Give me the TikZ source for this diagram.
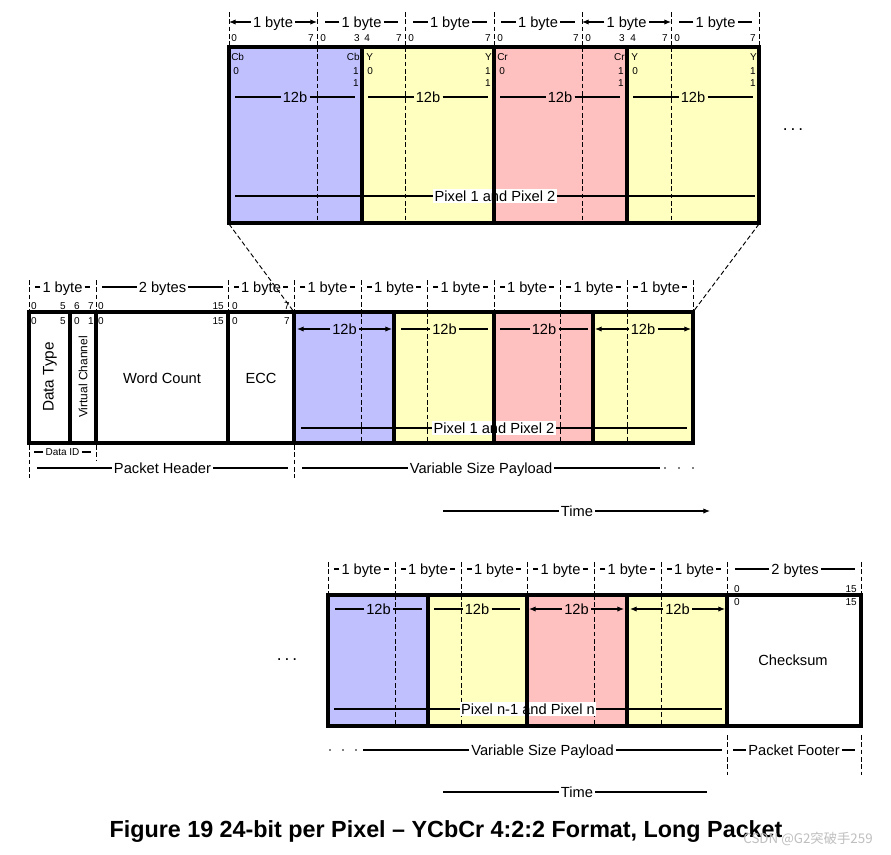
\documentclass[tikz,border=0pt]{standalone}
\usepackage{fontspec}
\setmainfont{Liberation Sans}
\newfontfamily\cjkfont{Noto Sans CJK SC}
\usetikzlibrary{arrows.meta}
\definecolor{cbblue}{RGB}{192,192,255}
\definecolor{yy}{RGB}{255,255,192}
\definecolor{crpink}{RGB}{255,192,192}
\tikzset{
 bord/.style={line width=2.4pt},
 dtick/.style={line width=0.7pt, dash pattern=on 3.5pt off 2pt},
 arr/.style={line width=0.8pt,-{Latex[length=5pt,width=4pt]}},
 noarr/.style={line width=0.8pt},
 lab/.style={font=\fontsize{11}{13}\selectfont, inner sep=1.5pt, text height=8pt, text depth=0pt},
 tiny/.style={font=\fontsize{7.5}{8}\selectfont, inner sep=0pt},
 wbox/.style={fill=white, inner sep=1pt},
}
\newcommand{\dl}[7][]{%
 \node[lab,#1] (#2) at ({(#3+#4)/2},#5) {#6};
 \draw[#7] (#2.west) -- (#3,#5);
 \draw[#7] (#2.east) -- (#4,#5);}
\begin{document}
\begin{tikzpicture}[x=0.75pt,y=-0.75pt]
\useasboundingbox[fill=white] (0,0) rectangle (891,854);

% ================= TOP =================
\fill[cbblue] (229,47) rectangle (362,223);
\fill[yy] (362,47) rectangle (494,223);
\fill[crpink] (494,47) rectangle (627,223);
\fill[yy] (627,47) rectangle (759,223);
\foreach \x in {317,405,582,671} \draw[dtick] (\x,47) -- (\x,223);
\foreach \x in {229,317,405,494,582,671,759} \draw[dtick] (\x,12) -- (\x,47);

\dl{tb1}{229}{317}{22}{1 byte}{arr}
\dl{tb2}{325}{398}{22}{1 byte}{noarr}
\dl{tb3}{413}{487}{22}{1 byte}{noarr}
\dl{tb4}{501}{575}{22}{1 byte}{noarr}
\dl{tb5}{582}{671}{22}{1 byte}{arr}
\dl{tb6}{679}{752}{22}{1 byte}{noarr}

\foreach \x/\t/\a [count=\i] in {231/0/west,314/7/east,320/0/west,360/3/east,364/4/west,402/7/east,
  408/0/west,491/7/east,497/0/west,579/7/east,585/0/west,625/3/east,630/4/west,668/7/east,674/0/west,756/7/east}
  \node[tiny,anchor=\a] (tbit\i) at (\x,38) {\t};

% inside labels
\node[tiny,anchor=west] (cbA) at (231,57) {Cb};
\node[tiny,anchor=west] (cbB) at (233,71) {0};
\node[tiny,anchor=east] (cbC) at (360,57) {Cb};
\node[tiny,anchor=east] (cbD) at (359,71) {1};
\node[tiny,anchor=east] (cbE) at (359,83) {1};
\node[tiny,anchor=west] (yA) at (366,57) {Y};
\node[tiny,anchor=west] (yB) at (367,71) {0};
\node[tiny,anchor=east] (yC) at (492,57) {Y};
\node[tiny,anchor=east] (yD) at (491,71) {1};
\node[tiny,anchor=east] (yE) at (491,83) {1};
\node[tiny,anchor=west] (crA) at (497,57) {Cr};
\node[tiny,anchor=west] (crB) at (499,71) {0};
\node[tiny,anchor=east] (crC) at (625,57) {Cr};
\node[tiny,anchor=east] (crD) at (624,71) {1};
\node[tiny,anchor=east] (crE) at (624,83) {1};
\node[tiny,anchor=west] (y2A) at (631,57) {Y};
\node[tiny,anchor=west] (y2B) at (632,71) {0};
\node[tiny,anchor=east] (y2C) at (757,57) {Y};
\node[tiny,anchor=east] (y2D) at (756,71) {1};
\node[tiny,anchor=east] (y2E) at (756,83) {1};

\dl{t12a}{235}{355}{97}{12b}{noarr}
\dl{t12b}{368}{488}{97}{12b}{noarr}
\dl{t12c}{500}{620}{97}{12b}{noarr}
\dl{t12d}{633}{753}{97}{12b}{noarr}
\dl[wbox]{tpix}{235}{755}{196}{Pixel 1 and Pixel 2}{noarr}

\foreach \x in {362,494,627} \draw[bord] (\x,47) -- (\x,223);
\draw[bord] (229,47) rectangle (759,223);

\node[font=\fontsize{13}{14}\selectfont] (dotsA) at (793,130) {.\,.\,.};

% zoom lines
\coordinate (topBL) at (229,224);
\coordinate (topBR) at (759,224);
\coordinate (midTL) at (294,312);
\coordinate (midTR) at (693,312);
\draw[dtick] (topBL) -- (midTL);
\draw[dtick] (topBR) -- (midTR);

% ================= MIDDLE =================
\fill[cbblue] (294,312) rectangle (394,443);
\fill[yy] (394,312) rectangle (494,443);
\fill[crpink] (494,312) rectangle (593,443);
\fill[yy] (593,312) rectangle (693,443);
\foreach \x in {361,427,560,627} \draw[dtick] (\x,312) -- (\x,443);
\foreach \x in {29,96,228,294,361,427,494,560,627,693} \draw[dtick] (\x,280) -- (\x,312);
\draw[dtick] (29,445) -- (29,478);
\draw[dtick] (96,445) -- (96,460);
\draw[dtick] (294,445) -- (294,478);

\dl{mb1}{35}{90}{287}{1 byte}{noarr}
\dl{mb2}{102}{223}{287}{2 bytes}{noarr}
\dl{mb3}{234}{288}{287}{1 byte}{noarr}
\dl{mb4}{300}{355}{287}{1 byte}{noarr}
\dl{mb5}{367}{421}{287}{1 byte}{noarr}
\dl{mb6}{433}{488}{287}{1 byte}{noarr}
\dl{mb7}{500}{554}{287}{1 byte}{noarr}
\dl{mb8}{566}{621}{287}{1 byte}{noarr}
\dl{mb9}{633}{687}{287}{1 byte}{noarr}

\foreach \x/\t/\a [count=\i] in {34/0/center,63/5/center,77/6/center,91/7/center,101/0/center,224/15/east,235/0/center,287/7/center}
  \node[tiny,anchor=\a] (mbitA\i) at (\x,306) {\t};
\foreach \x/\t/\a [count=\i] in {34/0/center,63/5/center,77/0/center,91/1/center,101/0/center,224/15/east,235/0/center,287/7/center}
  \node[tiny,anchor=\a] (mbitB\i) at (\x,321) {\t};

\node[rotate=90,font=\fontsize{11.5}{13}\selectfont] (dtype) at (50,377) {Data Type};
\node[rotate=90,font=\fontsize{9}{10}\selectfont] (vchan) at (83,377) {Virtual Channel};
\node[font=\fontsize{11}{13}\selectfont] (wc) at (162,378) {Word Count};
\node[font=\fontsize{11}{13}\selectfont] (ecc) at (261,378) {ECC};

\dl{m12a}{297}{392}{329}{12b}{arr}
\dl{m12b}{401}{488}{329}{12b}{noarr}
\dl{m12c}{500}{588}{329}{12b}{noarr}
\dl{m12d}{595}{691}{329}{12b}{arr}
\dl[wbox]{mpix}{301}{687}{428}{Pixel 1 and Pixel 2}{noarr}

\foreach \x in {70,96,228,294,394,494,593} \draw[bord] (\x,312) -- (\x,443);
\draw[bord] (29,312) rectangle (693,443);

\dl[font=\fontsize{7.5}{9}\selectfont,text height=5.5pt]{did}{34}{91}{452}{Data ID}{noarr}
\dl{phdr}{37}{288}{468}{Packet Header}{noarr}
\dl{vsp1}{302}{660}{468}{Variable Size Payload}{noarr}
\foreach \x in {665,679,693} \fill (\x,468) circle[radius=0.9];

% time
\coordinate (time1L) at (443,511);
\coordinate (time1R) at (710,511);
\node[lab] (time1) at (577,511) {Time};
\draw[noarr] (time1.west) -- (time1L);
\draw[arr] (time1.east) -- (time1R);

% ================= BOTTOM =================
\node[font=\fontsize{13}{14}\selectfont] (dotsB) at (287,660) {.\,.\,.};

\fill[cbblue] (328,595) rectangle (428,726);
\fill[yy] (428,595) rectangle (527,726);
\fill[crpink] (527,595) rectangle (627,726);
\fill[yy] (627,595) rectangle (727,726);
\foreach \x in {395,461,594,661} \draw[dtick] (\x,595) -- (\x,726);
\foreach \x in {328,395,461,527,594,661,727,861} \draw[dtick] (\x,562) -- (\x,595);
\draw[dtick] (727,735) -- (727,775);
\draw[dtick] (861,735) -- (861,775);

\dl{bb1}{334}{389}{569}{1 byte}{noarr}
\dl{bb2}{401}{455}{569}{1 byte}{noarr}
\dl{bb3}{467}{521}{569}{1 byte}{noarr}
\dl{bb4}{533}{588}{569}{1 byte}{noarr}
\dl{bb5}{600}{655}{569}{1 byte}{noarr}
\dl{bb6}{667}{721}{569}{1 byte}{noarr}
\dl{bb7}{735}{855}{569}{2 bytes}{noarr}

\node[tiny] (bbitA) at (737,589) {0};
\node[tiny,anchor=east] (bbitB) at (857,589) {15};
\node[tiny] (bbitC) at (737,602) {0};
\node[tiny,anchor=east] (bbitD) at (857,602) {15};

\node[font=\fontsize{11}{13}\selectfont] (cks) at (793,660) {Checksum};

\dl{b12a}{335}{422}{609}{12b}{noarr}
\dl{b12b}{434}{520}{609}{12b}{noarr}
\dl{b12c}{529}{624}{609}{12b}{arr}
\dl{b12d}{630}{725}{609}{12b}{arr}
\dl[wbox]{bpix}{334}{722}{709}{Pixel n-1 and Pixel n}{noarr}

\foreach \x in {428,527,627,727} \draw[bord] (\x,595) -- (\x,726);
\draw[bord] (328,595) rectangle (861,726);

\foreach \x in {330,343,356} \fill (\x,750) circle[radius=0.9];
\dl{vsp2}{363}{722}{750}{Variable Size Payload}{noarr}
\dl{pftr}{733}{855}{750}{Packet Footer}{noarr}

\coordinate (time2L) at (443,792);
\coordinate (time2R) at (707,792);
\node[lab] (time2) at (577,792) {Time};
\draw[noarr] (time2.west) -- (time2L);
\draw[noarr] (time2.east) -- (time2R);

% caption
\node[font=\bfseries\fontsize{17.5}{20}\selectfont] (cap) at (446,831) {Figure 19 24-bit per Pixel – YCbCr 4:2:2 Format, Long Packet};
\node[font=\cjkfont\fontsize{10}{12}\selectfont, text=black!25, inner sep=0pt] (wm) at (808,839) {CSDN @G2突破手259};
\end{tikzpicture}
\end{document}
